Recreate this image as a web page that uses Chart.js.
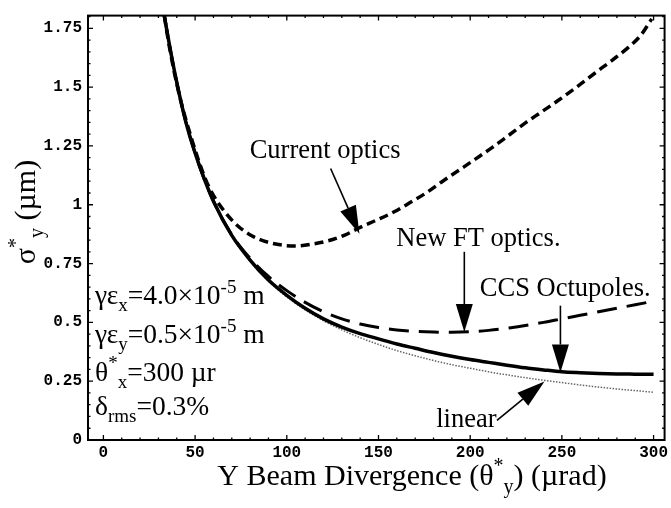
<!DOCTYPE html>
<html><head><meta charset="utf-8">
<script src="https://cdn.jsdelivr.net/npm/chart.js@4/dist/chart.umd.min.js"></script>
<style>html,body{margin:0;padding:0;background:#fff;}</style>
</head><body>
<canvas id="c" width="671" height="508"></canvas>
<script>
// ---- tick values / labels ----
const xTicks = [0, 50, 100, 150, 200, 250, 300];
const xTickLabels = ['0', '50', '100', '150', '200', '250', '300'];
const yTicks = [0, 0.25, 0.5, 0.75, 1, 1.25, 1.5, 1.75];
const yTickLabels = ['0', '0.25', '0.5', '0.75', '1', '1.25', '1.5', '1.75'];

// ---- series (theta*_y in µrad, sigma*_y in µm) ----
const currentX = [33.2, 36, 41.3, 48.5, 55.7, 60, 66.5, 73, 80.9, 90, 98.9, 105, 113.3, 122.3, 131.3, 140.3, 149, 158.3, 167, 176.3, 185, 194.3, 203, 212.3, 221, 230.3, 239, 248.3, 258, 268.1, 277, 286.1, 293, 299];
const currentY = [1.804, 1.67, 1.47, 1.27, 1.108, 1.04, 0.967, 0.912, 0.868, 0.84, 0.827, 0.825, 0.832, 0.846, 0.87, 0.905, 0.935, 0.969, 1.008, 1.052, 1.1, 1.149, 1.195, 1.245, 1.295, 1.349, 1.395, 1.445, 1.5, 1.56, 1.612, 1.668, 1.72, 1.79];

const thetaY = [33.2, 36, 40, 45, 50, 55, 60, 70, 80, 90, 100, 110, 120, 130, 140, 150, 160, 170, 180, 190, 200, 210, 220, 230, 240, 250, 260, 270, 280, 290, 300];
const newFtY = [1.804, 1.68, 1.52, 1.35, 1.22, 1.11, 1.015, 0.872, 0.772, 0.695, 0.635, 0.585, 0.545, 0.515, 0.493, 0.478, 0.468, 0.462, 0.459, 0.458, 0.46, 0.466, 0.475, 0.487, 0.5, 0.515, 0.53, 0.545, 0.56, 0.575, 0.59];
const octupoleY = [1.804, 1.68, 1.52, 1.35, 1.22, 1.11, 1.015, 0.87, 0.765, 0.68, 0.615, 0.56, 0.515, 0.48, 0.452, 0.43, 0.408, 0.39, 0.372, 0.356, 0.342, 0.33, 0.318, 0.307, 0.298, 0.29, 0.286, 0.283, 0.281, 0.28, 0.279];
const linearY = [1.804, 1.68, 1.52, 1.35, 1.21, 1.1, 1.01, 0.865, 0.76, 0.675, 0.608, 0.553, 0.507, 0.468, 0.435, 0.406, 0.38, 0.358, 0.338, 0.32, 0.305, 0.29, 0.277, 0.265, 0.254, 0.244, 0.234, 0.225, 0.217, 0.21, 0.203];

const pts = (xs, ys) => xs.map((x, i) => ({x: x, y: ys[i]}));

const SERIF = '"Liberation Serif", "Times New Roman", serif';
const MONO = '"Liberation Mono", "DejaVu Sans Mono", monospace';

function drawRich(ctx, parts, x, y, size, align) {
  const fnt = p => ((p.sub || p.sup) ? Math.round(size * 0.68) : size) + 'px ' + SERIF;
  let w = 0;
  parts.forEach(p => { ctx.font = fnt(p); w += ctx.measureText(p.t).width; });
  let cx = align === 'center' ? x - w / 2 : (align === 'right' ? x - w : x);
  ctx.textAlign = 'left';
  ctx.textBaseline = 'alphabetic';
  parts.forEach(p => {
    ctx.font = fnt(p);
    const dy = p.sub ? size * 0.26 : (p.sup ? -size * 0.42 : 0);
    ctx.fillText(p.t, cx, y + dy);
    cx += ctx.measureText(p.t).width;
  });
}

function arrow(ctx, x1, y1, x2, y2, headLen, headW) {
  const a = Math.atan2(y2 - y1, x2 - x1);
  const bx = x2 - headLen * Math.cos(a), by = y2 - headLen * Math.sin(a);
  ctx.beginPath();
  ctx.moveTo(x1, y1); ctx.lineTo(bx, by);
  ctx.lineWidth = 1.6; ctx.strokeStyle = '#000'; ctx.setLineDash([]);
  ctx.stroke();
  ctx.beginPath();
  ctx.moveTo(x2, y2);
  ctx.lineTo(bx + headW / 2 * Math.sin(a), by - headW / 2 * Math.cos(a));
  ctx.lineTo(bx - headW / 2 * Math.sin(a), by + headW / 2 * Math.cos(a));
  ctx.closePath(); ctx.fillStyle = '#000'; ctx.fill();
}

// annotations in data coordinates
const notes = [
  {parts: [{t: 'Current optics'}], x: 120.9, y: 1.197, from: [123.9, 1.154], to: [139.6, 0.877]},
  {parts: [{t: 'New FT optics.'}], x: 204.5, y: 0.825, from: [196.8, 0.80], to: [196.8, 0.459]},
  {parts: [{t: 'CCS Octupoles.'}], x: 251.8, y: 0.612, from: [249.2, 0.571], to: [249.2, 0.287]},
  {parts: [{t: 'linear'}], x: 197.9, y: 0.054, from: [214.6, 0.083], to: [240.5, 0.249]}
];
const params = [
  [{t: 'γε'}, {t: 'x', sub: true}, {t: '=4.0×10'}, {t: '-5', sup: true}, {t: ' m'}],
  [{t: 'γε'}, {t: 'y', sub: true}, {t: '=0.5×10'}, {t: '-5', sup: true}, {t: ' m'}],
  [{t: 'θ'}, {t: '*', sup: true}, {t: 'x', sub: true}, {t: '=300 µr'}],
  [{t: 'δ'}, {t: 'rms', sub: true}, {t: '=0.3%'}]
];
const paramY = [0.577, 0.411, 0.252, 0.108];

const decor = {
  id: 'decor',
  afterDatasetsDraw(chart) {
    const ctx = chart.ctx, a = chart.chartArea;
    const xs = chart.scales.x, ys = chart.scales.y;
    ctx.save();
    // frame
    ctx.strokeStyle = '#000'; ctx.lineWidth = 2; ctx.setLineDash([]);
    ctx.strokeRect(a.left, a.top, a.right - a.left, a.bottom - a.top);
    // inward ticks
    ctx.lineWidth = 1.3;
    for (let v = 0; v <= 300; v += 10) {
      const px = xs.getPixelForValue(v), L = (v % 50 === 0) ? 5 : 2.5;
      ctx.beginPath();
      ctx.moveTo(px, a.bottom); ctx.lineTo(px, a.bottom - L);
      ctx.moveTo(px, a.top); ctx.lineTo(px, a.top + L);
      ctx.stroke();
    }
    for (let k = 0; k <= 36; k++) {
      const v = k * 0.05, py = ys.getPixelForValue(v), L = (k % 5 === 0) ? 5 : 2.5;
      ctx.beginPath();
      ctx.moveTo(a.left, py); ctx.lineTo(a.left + L, py);
      ctx.moveTo(a.right, py); ctx.lineTo(a.right - L, py);
      ctx.stroke();
    }
    ctx.fillStyle = '#000';
    // annotations
    notes.forEach(n => {
      drawRich(ctx, n.parts, xs.getPixelForValue(n.x), ys.getPixelForValue(n.y), 26.5, 'center');
      arrow(ctx, xs.getPixelForValue(n.from[0]), ys.getPixelForValue(n.from[1]),
            xs.getPixelForValue(n.to[0]), ys.getPixelForValue(n.to[1]), 28, 17);
    });
    ctx.fillStyle = '#000';
    params.forEach((p, i) => drawRich(ctx, p, xs.getPixelForValue(-4.6), ys.getPixelForValue(paramY[i]), 27.5, 'left'));
    // axis titles
    drawRich(ctx, [{t: 'Y Beam Divergence (θ'}, {t: '*', sup: true}, {t: 'y', sub: true}, {t: ') (µrad)'}], 412, 485, 30, 'center');
    ctx.translate(35, 212);
    ctx.rotate(-Math.PI / 2);
    drawRich(ctx, [{t: 'σ'}, {t: '*', sup: true}, {t: 'y', sub: true}, {t: ' (µm)'}], 0, 0, 30, 'center');
    ctx.restore();
  }
};

new Chart(document.getElementById('c'), {
  type: 'scatter',
  data: {
    datasets: [
      {label: 'CCS Octupoles', data: pts(thetaY, octupoleY), showLine: true, borderColor: '#000', borderWidth: 3.5, pointRadius: 0, order: 0, cubicInterpolationMode: 'monotone'},
      {label: 'Current optics', data: pts(currentX, currentY), showLine: true, borderColor: '#000', borderWidth: 3.5, borderDash: [9, 5], pointRadius: 0, order: 1, cubicInterpolationMode: 'monotone'},
      {label: 'New FT optics', data: pts(thetaY, newFtY), showLine: true, borderColor: '#000', borderWidth: 3, borderDash: [20, 10], pointRadius: 0, order: 2, cubicInterpolationMode: 'monotone'},
      {label: 'linear', data: pts(thetaY, linearY), showLine: true, borderColor: '#666', borderWidth: 1.5, borderDash: [1.5, 1.5], pointRadius: 0, order: 3, cubicInterpolationMode: 'monotone'}
    ]
  },
  options: {
    responsive: false, animation: false, devicePixelRatio: 1,
    layout: {padding: {top: 5, right: 1, left: 0, bottom: 0}},
    plugins: {legend: {display: false}, tooltip: {enabled: false}},
    scales: {
      x: {
        type: 'linear', min: -8.4, max: 306,
        afterBuildTicks: s => { s.ticks = xTicks.map(v => ({value: v})); },
        afterFit: s => { s.height = 68; },
        grid: {display: false, drawTicks: false}, border: {display: false},
        ticks: {callback: (v, i) => xTickLabels[i], color: '#000', padding: 3, maxRotation: 0, font: {family: MONO, size: 16, weight: 'bold'}}
      },
      y: {
        type: 'linear', min: 0, max: 1.804,
        afterBuildTicks: s => { s.ticks = yTicks.map(v => ({value: v})); },
        afterFit: s => { s.width = 88; },
        grid: {display: false, drawTicks: false}, border: {display: false},
        ticks: {callback: (v, i) => yTickLabels[i], color: '#000', padding: 6, font: {family: MONO, size: 16, weight: 'bold'}}
      }
    }
  },
  plugins: [decor]
});
</script>
</body></html>
